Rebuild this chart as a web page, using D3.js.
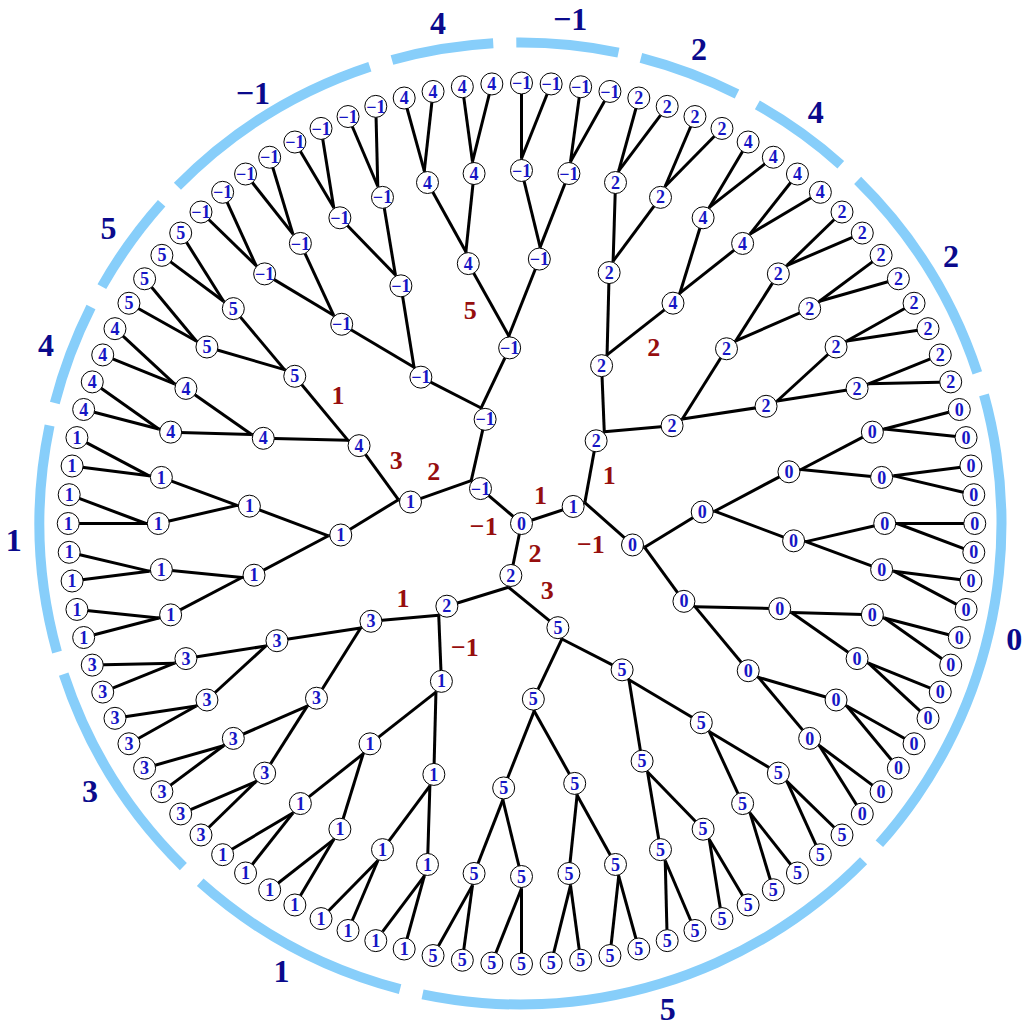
<!DOCTYPE html>
<html>
<head>
<meta charset="utf-8">
<script src="https://cdn.jsdelivr.net/npm/d3@7"></script>
<style>
  body { margin: 0; background: #fff; }
  svg { display: block; }
</style>
</head>
<body>
<div id="chart"></div>
<script>
// Radial lineage tree with type changes on the edges

// Tree shape: the root splits in three, every other node in two
var rootLabel = 0;
var rootBranches = 3;
var treeDepth = 6;

// Edges that change the type: child indices from the root, and the change
var mutationPaths = [
  [0], [0, 0], [0, 1], [0, 0, 0, 1],
  [1], [1, 0], [1, 1, 0], [1, 1, 1],
  [2], [2, 0], [2, 0, 1], [2, 0, 1, 1], [2, 1, 1, 0]
];
var mutationDeltas = [1, 1, -1, 2, 2, 3, -1, 1, -1, 2, 3, 1, 5];
// which side of its edge each change label sits on (1 = counter-clockwise)
var labelSides = [1, -1, -1, -1, 1, 1, 1, -1, 1, -1, -1, -1, 1];

// Canvas
var width = 1029;
var height = 1030;
var cx = 521.5;
var cy = 523.5;
var xStretch = 1.029;
var ringX = 520.5;
var ringY = 523.5;

var svg = d3
  .select("#chart")
  .append("svg")
  .attr("width", width)
  .attr("height", height);

// Build the nested tree from the mutation list
var mutationIndex = {};
mutationPaths.forEach(function(p, i) {
  mutationIndex[p.join(",")] = i;
});

function grow(path, parentLabel, depth) {
  var node = { label: parentLabel, mutation: null };
  var i = mutationIndex[path.join(",")];
  if (i !== undefined) {
    node.label = parentLabel + mutationDeltas[i];
    node.mutation = i;
  }
  if (depth < treeDepth) {
    var n = depth === 0 ? rootBranches : 2;
    node.children = d3.range(n).map(function(c) {
      return grow(path.concat(c), node.label, depth + 1);
    });
  }
  return node;
}

var root = d3.hierarchy(grow([], rootLabel, 0));
var leafCount = root.leaves().length;

// Leaves evenly round the circle
d3.cluster()
  .size([leafCount, treeDepth])
  .separation(function() { return 1; })(root);

// Angle (degrees, clockwise from top) and radius scales
var angleScale = d3.scaleLinear()
  .domain([0, leafCount])
  .range([13.125, 373.125]);
var rScale = d3.scaleLinear()
  .domain([0, 1, 2, 3, 4, 5, 6])
  .range([0, 53, 110, 176, 265, 353, 440.5]);
var branchGap = 12;

function place(r, deg) {
  var a = deg * Math.PI / 180;
  return [cx + xStretch * r * Math.sin(a), cy - r * Math.cos(a)];
}

root.each(function(d) {
  d.angle = angleScale(d.x - (d.children ? 0.5 : 0));
  var r = rScale(d.depth);
  d.pos = place(r, d.angle);
  d.branch = d.depth === 0 ? d.pos : place(r + branchGap, d.angle);
});

function fmt(v) {
  return v < 0 ? "\u2212" + Math.abs(v) : String(v);
}

// Outer ring: one arc for each run of leaves with the same type
var leaves = root.leaves();
var runs = [];
leaves.forEach(function(l) {
  var last = runs[runs.length - 1];
  if (last && last.label === l.data.label) {
    last.end = l;
  } else {
    runs.push({ label: l.data.label, start: l, end: l });
  }
});

var arcPad = 0.5;
var labelRadius = 507;
var ringArc = d3.arc().innerRadius(476).outerRadius(486);
var ring = svg.append("g").attr("transform", "translate(" + ringX + "," + ringY + ")");

function midAngle(d) {
  return (d.start.angle + d.end.angle) / 2 * Math.PI / 180;
}

ring.selectAll("path")
  .data(runs)
  .enter()
  .append("path")
  .attr("fill", "#87cefa")
  .attr("d", function(d) {
    return ringArc({
      startAngle: (d.start.angle - arcPad) * Math.PI / 180,
      endAngle: (d.end.angle + arcPad) * Math.PI / 180
    });
  });

ring.selectAll("text")
  .data(runs)
  .enter()
  .append("text")
  .attr("x", function(d) { return labelRadius * Math.sin(midAngle(d)); })
  .attr("y", function(d) { return -labelRadius * Math.cos(midAngle(d)); })
  .attr("dy", "0.35em")
  .attr("text-anchor", "middle")
  .attr("font-family", "'Liberation Serif', 'Times New Roman', serif")
  .attr("font-weight", "bold")
  .attr("font-size", 32)
  .attr("fill", "#0a0a8c")
  .text(function(d) { return fmt(d.label); });

// Edges: from the parent's branch point to the child's node
var links = root.links();
svg.append("g")
  .selectAll("line")
  .data(links)
  .enter()
  .append("line")
  .attr("x1", function(d) { return d.source.branch[0]; })
  .attr("y1", function(d) { return d.source.branch[1]; })
  .attr("x2", function(d) { return d.target.pos[0]; })
  .attr("y2", function(d) { return d.target.pos[1]; })
  .attr("stroke", "#000")
  .attr("stroke-width", 3);

// short stem from each inner node to its branch point
svg.append("g")
  .selectAll("line")
  .data(root.descendants().filter(function(d) { return d.depth > 0 && d.children; }))
  .enter()
  .append("line")
  .attr("x1", function(d) { return d.pos[0]; })
  .attr("y1", function(d) { return d.pos[1]; })
  .attr("x2", function(d) { return d.branch[0]; })
  .attr("y2", function(d) { return d.branch[1]; })
  .attr("stroke", "#000")
  .attr("stroke-width", 3);

// Change labels beside the edges
var changed = links.filter(function(d) { return d.target.data.mutation !== null; });
svg.append("g")
  .selectAll("text")
  .data(changed)
  .enter()
  .append("text")
  .each(function(d) {
    var i = d.target.data.mutation;
    var p1 = d.source.branch;
    var p2 = d.target.pos;
    var dx = p2[0] - p1[0];
    var dy = p2[1] - p1[1];
    var len = Math.sqrt(dx * dx + dy * dy);
    var side = labelSides[i];
    var nx = side * dy / len;
    var ny = -side * dx / len;
    var txt = fmt(mutationDeltas[i]);
    var halfW = txt.length > 1 ? 13.5 : 6.5;
    var off = 11 + Math.abs(nx) * halfW + Math.abs(ny) * 9;
    d3.select(this)
      .attr("x", (p1[0] + p2[0]) / 2 + nx * off)
      .attr("y", (p1[1] + p2[1]) / 2 + ny * off)
      .text(txt);
  })
  .attr("dy", "0.35em")
  .attr("text-anchor", "middle")
  .attr("font-family", "'Liberation Serif', 'Times New Roman', serif")
  .attr("font-weight", "bold")
  .attr("font-size", 26)
  .attr("fill", "#960e0e");

// Nodes
var node = svg.append("g")
  .selectAll("g")
  .data(root.descendants())
  .enter()
  .append("g")
  .attr("transform", function(d) {
    return "translate(" + d.pos[0] + "," + d.pos[1] + ")";
  });

node.append("circle")
  .attr("r", 11)
  .attr("fill", "#fff")
  .attr("stroke", "#000")
  .attr("stroke-width", 1);

node.append("text")
  .attr("dy", "0.34em")
  .attr("text-anchor", "middle")
  .attr("font-family", "'Liberation Serif', 'Times New Roman', serif")
  .attr("font-weight", "bold")
  .attr("font-size", 18)
  .attr("fill", "#1616c4")
  .text(function(d) { return fmt(d.data.label); });
</script>
</body>
</html>
